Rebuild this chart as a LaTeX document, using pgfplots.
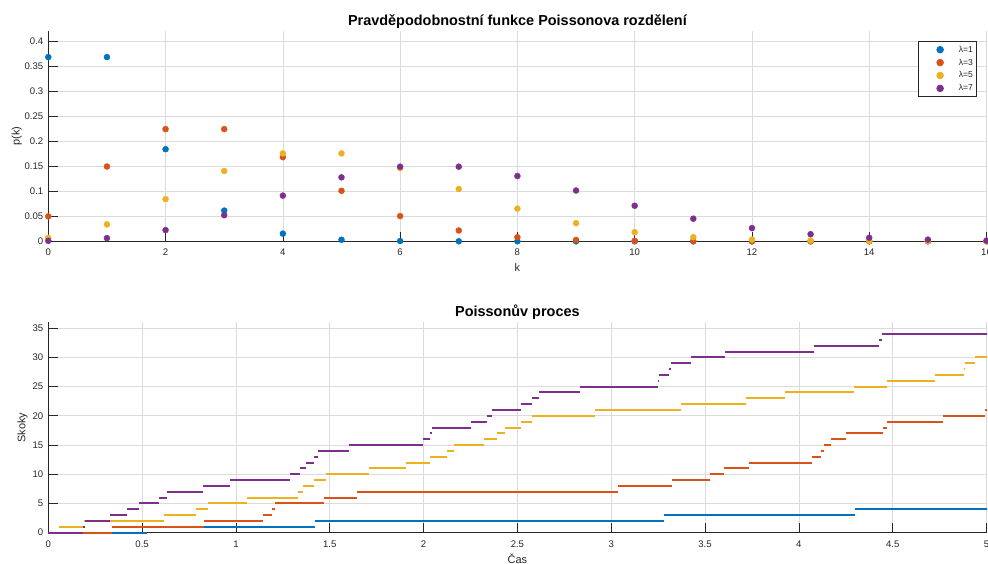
\documentclass[border=0pt]{standalone}
\usepackage{pgfplots}
\pgfplotsset{compat=1.18}
\usepackage{fontspec}
\setmainfont{Liberation Sans}
\definecolor{mblue}{rgb}{0,0.447,0.741}
\definecolor{morange}{rgb}{0.85,0.325,0.098}
\definecolor{myellow}{rgb}{0.929,0.694,0.125}
\definecolor{mpurple}{rgb}{0.494,0.184,0.556}
\definecolor{axc}{rgb}{0.15,0.15,0.15}
\definecolor{gridc}{rgb}{0.86,0.86,0.86}
\pgfplotsset{common/.style={
  scale only axis, width=938.2bp,
  axis x line*=bottom, axis y line*=left,
  axis line style={axc, line width=0.7bp},
  tick style={axc, line width=0.7bp},
  tick align=inside,
  major tick length=9.5bp,
  grid=major, major grid style={gridc, line width=0.7bp},
  tick label style={font=\fontsize{9.6}{11}\selectfont, text=axc},
  xticklabel style={yshift=-4.5bp},
  yticklabel style={xshift=-1.5bp},
  /pgf/number format/assume math mode=true,
  /pgf/number format/fixed, /pgf/number format/precision=2,
  scaled ticks=false,
  clip=false,
  title style={at={(axis description cs:0.5,1)}, anchor=base, yshift=0bp, font=\bfseries\fontsize{14.5}{16}\selectfont},
  label style={font=\fontsize{11}{13}\selectfont, text=axc},
}}
\begin{document}
\begin{tikzpicture}
\useasboundingbox (0,0) rectangle (988bp,564bp);
\begin{axis}[common, at={(48.3bp,322.7bp)}, anchor=south west, height=210.3bp,
  xmin=0, xmax=16, ymin=0, ymax=0.42,
  xtick={0,2,4,6,8,10,12,14,16},
  ytick={0,0.05,0.1,0.15,0.2,0.25,0.3,0.35,0.4},
  title={Pravděpodobnostní funkce Poissonova rozdělení},
  xlabel={k}, ylabel={p(k)},
  xlabel style={at={(axis description cs:0.5,-0.146)}, anchor=base},
  ylabel style={at={(axis description cs:-0.0305,0.5)}, anchor=base},
  legend style={at={(axis description cs:0.989,0.952)}, anchor=north east,
    draw=axc, line width=0.6bp, fill=white, inner xsep=3bp, inner ysep=3.8bp,
    row sep=3.9bp, column sep=7.7bp,
    nodes={inner sep=0bp, text height=7bp, text depth=2bp},
    font=\fontsize{8.6}{10}\selectfont, text=axc},
  legend cell align=left,
  mymark/.style={only marks, mark=*, color=#1, mark size=3bp,
    legend image code/.code={\path[draw=none,fill=none] (0bp,-1bp) rectangle (30bp,1bp); \fill[#1] (19bp,0bp) circle (3.4bp);}},
]
\addplot[mymark=mblue] coordinates {
(0,0.367879) (1,0.367879) (2,0.183940) (3,0.061313) (4,0.015328) (5,0.003066) (6,0.000511) (7,0.000073) (8,0.000009) (9,0.000001) (10,0) (11,0) (12,0) (13,0) (14,0) (15,0) (16,0)};
\addplot[mymark=morange] coordinates {
(0,0.049787) (1,0.149361) (2,0.224042) (3,0.224042) (4,0.168031) (5,0.100819) (6,0.050409) (7,0.021604) (8,0.008102) (9,0.002701) (10,0.000810) (11,0.000221) (12,0.000055) (13,0.000013) (14,0.000003) (15,0.000001) (16,0)};
\addplot[mymark=myellow] coordinates {
(0,0.006738) (1,0.033690) (2,0.084224) (3,0.140374) (4,0.175467) (5,0.175467) (6,0.146223) (7,0.104445) (8,0.065278) (9,0.036266) (10,0.018133) (11,0.008242) (12,0.003434) (13,0.001321) (14,0.000472) (15,0.000157) (16,0.000049)};
\addplot[mymark=mpurple] coordinates {
(0,0.000912) (1,0.006383) (2,0.022341) (3,0.052129) (4,0.091226) (5,0.127717) (6,0.149003) (7,0.149003) (8,0.130377) (9,0.101405) (10,0.070983) (11,0.045171) (12,0.026350) (13,0.014188) (14,0.007094) (15,0.003311) (16,0.001448)};
\legend{λ=1, λ=3, λ=5, λ=7}
\end{axis}
\begin{axis}[common, at={(48.3bp,31.3bp)}, anchor=south west, height=210.4bp,
  xmin=0, xmax=5, ymin=0, ymax=36,
  xtick={0,0.5,1,1.5,2,2.5,3,3.5,4,4.5,5},
  ytick={0,5,10,15,20,25,30,35},
  title={Poissonův proces},
  xlabel={Čas}, ylabel={Skoky},
  xlabel style={at={(axis description cs:0.5,-0.145)}, anchor=base},
  ylabel style={at={(axis description cs:-0.0245,0.5)}, anchor=base},
]
\addplot[jump mark left, color=mblue, line width=2bp] coordinates {
(0,0) (0.524,1) (1.419,2) (3.282,3) (4.298,4) (5,4)};
\addplot[jump mark left, color=morange, line width=2bp] coordinates {
(0,0) (0.338,1) (0.832,2) (1.145,3) (1.192,4) (1.210,5) (1.468,6) (1.644,7) (3.035,8) (3.323,9) (3.526,10) (3.600,11) (3.733,12) (4.069,13) (4.117,14) (4.133,15) (4.171,16) (4.251,17) (4.448,18) (4.469,19) (4.768,20) (4.991,21) (5,21)};
\addplot[jump mark left, color=myellow, line width=2bp] coordinates {
(0,0) (0.057,1) (0.190,2) (0.618,3) (0.789,4) (0.849,5) (1.061,6) (1.329,7) (1.357,8) (1.418,9) (1.482,10) (1.709,11) (1.905,12) (2.035,13) (2.125,14) (2.163,15) (2.323,16) (2.392,17) (2.434,18) (2.520,19) (2.578,20) (2.914,21) (3.373,22) (3.719,23) (3.927,24) (4.295,25) (4.468,26) (4.724,27) (4.878,28) (4.887,29) (4.940,30) (5,30)};
\addplot[jump mark left, color=mpurple, line width=2bp] coordinates {
(0,0) (0.185,1) (0.197,2) (0.329,3) (0.419,4) (0.483,5) (0.590,6) (0.633,7) (0.824,8) (0.969,9) (1.288,10) (1.341,11) (1.373,12) (1.416,13) (1.437,14) (1.601,15) (1.996,16) (2.035,17) (2.044,18) (2.253,19) (2.338,20) (2.365,21) (2.520,22) (2.578,23) (2.616,24) (2.833,25) (3.250,26) (3.255,27) (3.309,28) (3.319,29) (3.426,30) (3.607,31) (4.082,32) (4.428,33) (4.444,34) (5,34)};
\end{axis}
\end{tikzpicture}
\end{document}
